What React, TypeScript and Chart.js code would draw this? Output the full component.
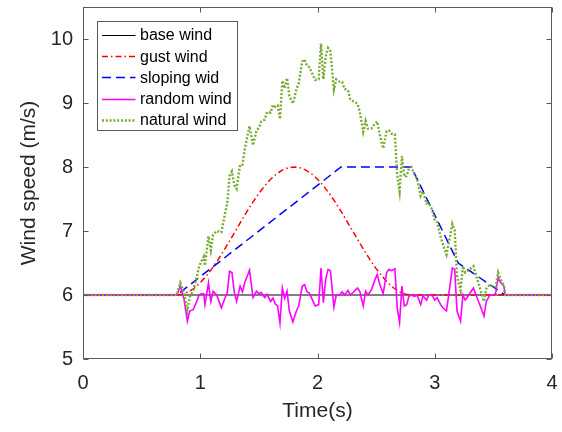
import React, { useEffect, useRef } from "react";
import { Chart, registerables } from "chart.js";

Chart.register(...registerables);

const FONT = "'Liberation Sans', Arial, Helvetica, sans-serif";

const xTicks = [0, 1, 2, 3, 4];
const yTicks = [5, 6, 7, 8, 9, 10];

const baseT = [0, 4];
const baseV = [6, 6];

const gustT = [0, 0.8, 0.85, 0.9, 0.95, 1.0, 1.05, 1.1, 1.15, 1.2, 1.25, 1.3, 1.35, 1.4, 1.45, 1.5, 1.55, 1.6, 1.65, 1.7, 1.75, 1.8, 1.85, 1.9, 1.95, 2.0, 2.05, 2.1, 2.15, 2.2, 2.25, 2.3, 2.35, 2.4, 2.45, 2.5, 2.55, 2.6, 2.65, 2.7, 2.75, 2.8, 4];
const gustV = [6, 6, 6.012, 6.049, 6.109, 6.191, 6.293, 6.412, 6.546, 6.691, 6.844, 7.0, 7.156, 7.309, 7.454, 7.588, 7.707, 7.809, 7.891, 7.951, 7.988, 8.0, 7.988, 7.951, 7.891, 7.809, 7.707, 7.588, 7.454, 7.309, 7.156, 7.0, 6.844, 6.691, 6.546, 6.412, 6.293, 6.191, 6.109, 6.049, 6.012, 6.0, 6];

const slopeT = [0, 0.8, 2.2, 2.8, 3.2, 3.6, 4];
const slopeV = [6, 6, 8, 8, 6.5, 6, 6];

const noiseT = [0, 0.8, 0.83, 0.86, 0.89, 0.91, 0.94, 0.97, 0.99, 1.01, 1.03, 1.04, 1.07, 1.09, 1.11, 1.14, 1.16, 1.18, 1.21, 1.23, 1.25, 1.27, 1.29, 1.31, 1.34, 1.36, 1.38, 1.4, 1.42, 1.45, 1.48, 1.5, 1.52, 1.55, 1.57, 1.6, 1.62, 1.64, 1.66, 1.68, 1.7, 1.72, 1.74, 1.76, 1.79, 1.82, 1.84, 1.87, 1.89, 1.91, 1.93, 1.95, 1.98, 2.01, 2.03, 2.05, 2.07, 2.09, 2.11, 2.14, 2.16, 2.19, 2.21, 2.23, 2.26, 2.28, 2.31, 2.34, 2.36, 2.39, 2.41, 2.43, 2.46, 2.49, 2.51, 2.53, 2.56, 2.59, 2.61, 2.63, 2.66, 2.68, 2.7, 2.72, 2.74, 2.76, 2.78, 2.8, 2.83, 2.85, 2.88, 2.9, 2.93, 2.95, 2.98, 3.0, 3.02, 3.05, 3.07, 3.1, 3.13, 3.15, 3.17, 3.19, 3.22, 3.24, 3.26, 3.29, 3.33, 3.36, 3.39, 3.42, 3.44, 3.47, 3.5, 3.52, 3.54, 3.56, 3.59, 3.6, 4];

const randomV = [6, 6, 6.14, 5.95, 5.59, 5.75, 5.77, 5.9, 6.0, 6.02, 6.02, 5.85, 6.19, 5.9, 6.06, 6.0, 5.9, 5.8, 5.95, 6.03, 6.37, 6.35, 6.05, 5.9, 6.14, 6.05, 6.2, 6.29, 6.39, 5.96, 6.06, 6.02, 6.04, 5.96, 6.01, 5.9, 5.95, 5.86, 5.83, 5.56, 6.11, 5.95, 6.06, 5.75, 5.58, 5.75, 5.83, 6.14, 6.16, 6.05, 6.03, 5.95, 5.83, 5.85, 6.42, 5.88, 6.25, 6.4, 6.38, 5.81, 6.0, 6.0, 6.05, 6.0, 6.07, 6.0, 6.05, 6.11, 6.06, 5.83, 6.06, 6.0, 6.08, 6.24, 6.32, 6.17, 6.02, 6.35, 6.4, 6.38, 6.41, 5.8, 5.57, 6.14, 5.83, 5.85, 5.98, 6.0, 5.98, 6.0, 5.85, 5.99, 5.92, 6.0, 5.99, 5.92, 5.96, 5.85, 5.8, 5.75, 6.15, 6.42, 6.4, 5.75, 5.59, 6.0, 5.92, 6.0, 6.11, 5.96, 5.82, 5.67, 5.9, 6.0, 6.0, 6.03, 6.27, 6.2, 6.14, 6.0, 6];

const naturalV = [6, 6, 6.19, 6.05, 5.76, 5.97, 6.07, 6.28, 6.44, 6.53, 6.6, 6.46, 6.92, 6.7, 6.94, 7.0, 6.99, 6.98, 7.26, 7.43, 7.86, 7.93, 7.72, 7.66, 8.04, 8.04, 8.28, 8.46, 8.64, 8.34, 8.57, 8.61, 8.71, 8.74, 8.86, 8.85, 8.97, 8.94, 8.96, 8.75, 9.35, 9.23, 9.39, 9.11, 8.99, 9.21, 9.31, 9.65, 9.68, 9.58, 9.56, 9.48, 9.36, 9.37, 9.93, 9.37, 9.73, 9.86, 9.81, 9.21, 9.37, 9.33, 9.33, 9.22, 9.2, 9.06, 9.02, 8.99, 8.87, 8.55, 8.72, 8.6, 8.6, 8.68, 8.71, 8.51, 8.29, 8.56, 8.57, 8.52, 8.51, 7.87, 7.62, 8.17, 7.85, 7.86, 7.98, 8.0, 7.87, 7.81, 7.55, 7.62, 7.43, 7.44, 7.32, 7.17, 7.14, 6.91, 6.79, 6.63, 6.91, 7.11, 7.01, 6.29, 6.07, 6.45, 6.35, 6.39, 6.45, 6.26, 6.08, 5.9, 6.1, 6.16, 6.13, 6.13, 6.35, 6.25, 6.15, 6.0, 6];

const toPts = (t: number[], v: number[]) => t.map((x, i) => ({ x, y: v[i] }));

const axesPlugin = {
  id: "matlabAxes",
  afterDatasetsDraw(chart: any) {
    const { ctx, chartArea: a, scales } = chart;
    const L = Math.round(a.left) + 0.5;
    const R = Math.round(a.right) - 0.5;
    const T = Math.round(a.top) + 0.5;
    const B = Math.round(a.bottom) - 0.5;
    ctx.save();
    ctx.setLineDash([]);
    ctx.strokeStyle = "#5a5a5a";
    ctx.lineWidth = 1;
    ctx.strokeRect(L, T, R - L, B - T);
    const tl = 5;
    ctx.beginPath();
    xTicks.forEach((v) => {
      const px = Math.round(scales.x.getPixelForValue(v)) + 0.5;
      ctx.moveTo(px, B);
      ctx.lineTo(px, B - tl);
      ctx.moveTo(px, T);
      ctx.lineTo(px, T + tl);
    });
    yTicks.forEach((v) => {
      const py = Math.round(scales.y.getPixelForValue(v)) + 0.5;
      ctx.moveTo(L, py);
      ctx.lineTo(L + tl, py);
      ctx.moveTo(R, py);
      ctx.lineTo(R - tl, py);
    });
    ctx.stroke();

    // legend box
    const bx = L + 14;
    const by = T + 14;
    const bw = 140;
    const bh = 109;
    ctx.fillStyle = "#ffffff";
    ctx.fillRect(bx, by, bw, bh);
    ctx.strokeStyle = "#5a5a5a";
    ctx.strokeRect(bx, by, bw, bh);
    ctx.font = `16px ${FONT}`;
    ctx.textBaseline = "middle";
    ctx.textAlign = "left";
    chart.data.datasets.forEach((ds: any, i: number) => {
      const y = by + 13.5 + i * 21.2;
      ctx.save();
      ctx.strokeStyle = ds.borderColor;
      ctx.lineWidth = ds.borderWidth;
      ctx.setLineDash(ds.borderDash || []);
      ctx.beginPath();
      ctx.moveTo(bx + 4.5, Math.round(y) + 0.5);
      ctx.lineTo(bx + 38, Math.round(y) + 0.5);
      ctx.stroke();
      ctx.restore();
      ctx.fillStyle = "#000000";
      ctx.fillText(ds.label, bx + 42.5, y + 1);
    });
    ctx.restore();
  },
};

export default function App() {
  const ref = useRef<HTMLCanvasElement | null>(null);
  useEffect(() => {
    if (!ref.current) return;
    const chart = new Chart(ref.current, {
      type: "line",
      data: {
        datasets: [
          { label: "base wind", data: toPts(baseT, baseV), borderColor: "#000000", borderWidth: 1, order: 5 },
          { label: "gust wind", data: toPts(gustT, gustV), borderColor: "#ff0000", borderWidth: 1.5, borderDash: [6, 3, 1.5, 3], order: 4 },
          { label: "sloping wid", data: toPts(slopeT, slopeV), borderColor: "#0000ff", borderWidth: 1.5, borderDash: [9, 5], order: 3 },
          { label: "random wind", data: toPts(noiseT, randomV), borderColor: "#ff00ff", borderWidth: 1.6, order: 2 },
          { label: "natural wind", data: toPts(noiseT, naturalV), borderColor: "#77ac30", borderWidth: 2.4, borderDash: [2, 1.8], order: 1 },
        ] as any,
      },
      options: {
        animation: false,
        responsive: false,
        devicePixelRatio: 1,
        layout: { padding: { left: 0, top: 7, right: 10, bottom: 0 } },
        elements: { point: { radius: 0 }, line: { tension: 0 } },
        plugins: { legend: { display: false }, tooltip: { enabled: false } },
        scales: {
          x: {
            type: "linear",
            min: 0,
            max: 4,
            afterBuildTicks: (s: any) => {
              s.ticks = xTicks.map((v) => ({ value: v }));
            },
            afterFit: (s: any) => {
              s.height = 73;
              s.paddingLeft = 0;
              s.paddingRight = 0;
            },
            grid: { display: false, drawTicks: false },
            border: { display: false },
            ticks: { font: { family: FONT, size: 20 }, color: "#262626", padding: 12, maxRotation: 0, autoSkip: false },
            title: { display: true, text: "Time(s)", font: { family: FONT, size: 21 }, color: "#262626", padding: { top: 0, bottom: 8 } },
          },
          y: {
            type: "linear",
            min: 5,
            max: 10.5,
            afterBuildTicks: (s: any) => {
              s.ticks = yTicks.map((v) => ({ value: v }));
            },
            afterFit: (s: any) => {
              s.width = 83;
              s.paddingTop = 0;
              s.paddingBottom = 0;
            },
            grid: { display: false, drawTicks: false },
            border: { display: false },
            ticks: { font: { family: FONT, size: 20 }, color: "#262626", padding: 10, autoSkip: false },
            title: { display: true, text: "Wind speed (m/s)", font: { family: FONT, size: 21 }, color: "#262626", padding: { top: 17, bottom: 0 } },
          },
        },
      } as any,
      plugins: [axesPlugin],
    });
    return () => chart.destroy();
  }, []);
  return (
    <div style={{ position: "fixed", left: 0, top: 0, width: 562, height: 432, background: "#ffffff" }}>
      <canvas ref={ref} width={562} height={432} style={{ width: 562, height: 432 }} />
    </div>
  );
}
